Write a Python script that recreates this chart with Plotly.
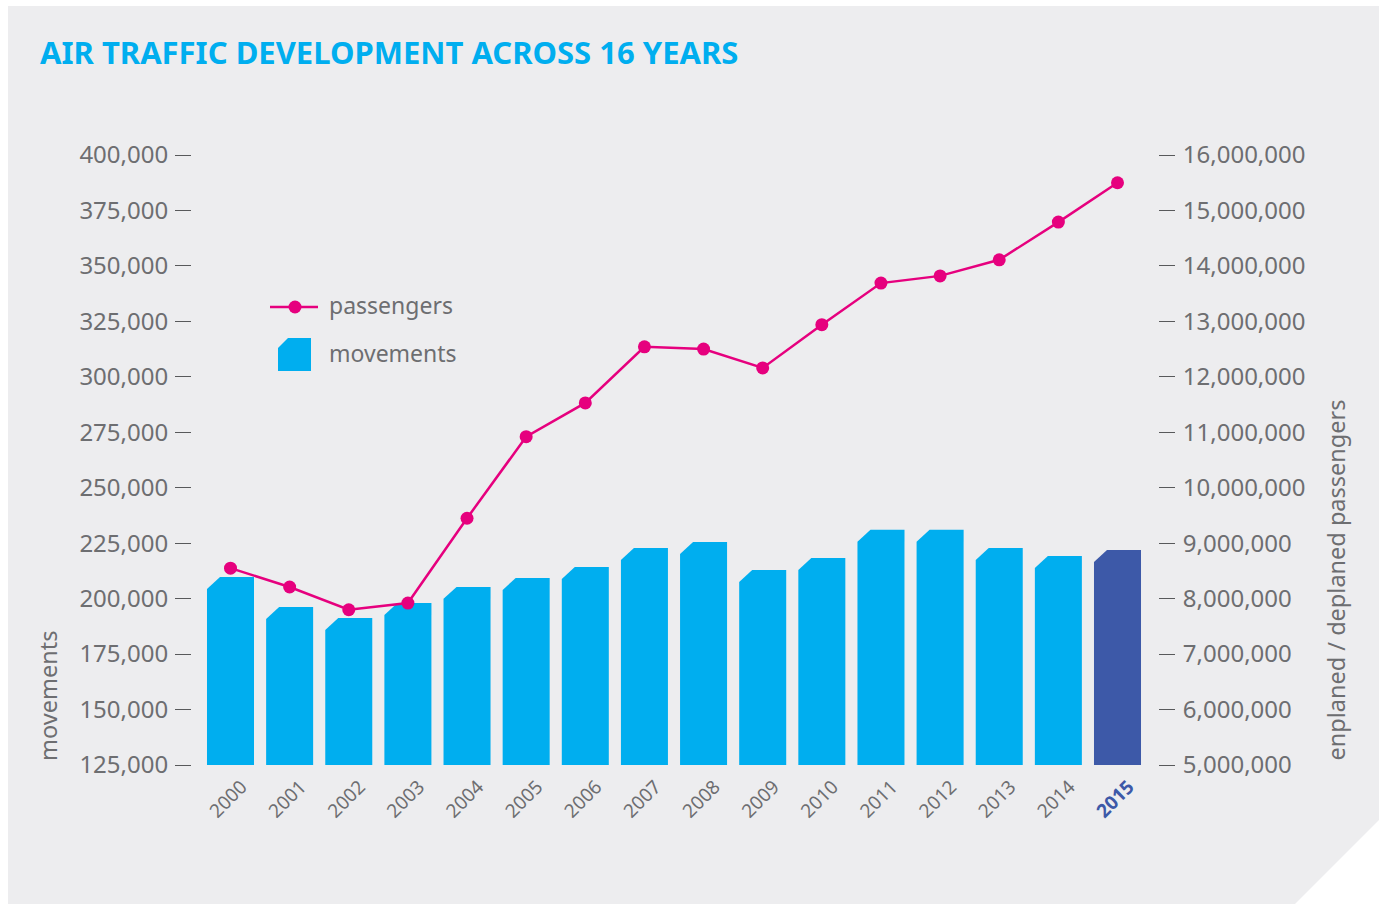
import plotly.graph_objects as go

# data
YEARS = ["2000", "2001", "2002", "2003", "2004", "2005", "2006", "2007",
         "2008", "2009", "2010", "2011", "2012", "2013", "2014", "2015"]
MOVEMENTS = [209800, 196200, 191300, 198000, 205300, 209300, 214300, 222800,
             225500, 212900, 218300, 231000, 231000, 222800, 219200, 221900]
PASSENGERS = [8550000, 8210000, 7800000, 7920000, 9450000, 10920000, 11530000, 12540000,
              12500000, 12160000, 12940000, 13690000, 13820000, 14110000, 14790000, 15500000]
LEFT_TICKS = [125000, 150000, 175000, 200000, 225000, 250000, 275000,
              300000, 325000, 350000, 375000, 400000]
RIGHT_TICKS = [5000000, 6000000, 7000000, 8000000, 9000000, 10000000,
               11000000, 12000000, 13000000, 14000000, 15000000, 16000000]

CYAN = "#00aeef"
NAVY = "#3d59a8"
PINK = "#e6007e"
GREY_TEXT = "#6d6e71"
TICK_GREY = "#58595b"
PANEL = "#ededef"
FONT = "Noto Sans"

W, H = 1379, 904
# plot area in pixels
L, R, T, B = 192, 1158, 155, 765


def px(x):
    return (x - L) / (R - L)


def py(y):
    return (B - y) / (B - T)


BAR_W = 0.795
CH_X = 0.22      # chamfer on the top-left corner, in category units
CH_Y = 5400      # chamfer height, in movements units
BASE = LEFT_TICKS[0]

fig = go.Figure()

for i, (yr, v) in enumerate(zip(YEARS, MOVEMENTS)):
    x0, x1 = i - BAR_W / 2, i + BAR_W / 2
    color = NAVY if yr == "2015" else CYAN
    fig.add_trace(go.Scatter(
        x=[x0, x0, x0 + CH_X, x1, x1, x0],
        y=[BASE, v - CH_Y, v, v, BASE, BASE],
        mode="lines", fill="toself", fillcolor=color,
        line=dict(width=0, color=color),
        name="movements", showlegend=False,
        hovertemplate=f"{yr}: {v:,} movements<extra></extra>",
    ))

fig.add_trace(go.Scatter(
    x=list(range(len(YEARS))), y=PASSENGERS, yaxis="y2",
    mode="lines+markers", name="passengers", showlegend=False,
    line=dict(color=PINK, width=2.5),
    marker=dict(color=PINK, size=13),
    customdata=YEARS,
    hovertemplate="%{customdata}: %{y:,} passengers<extra></extra>",
))

ticktext = [f"<b><span style='color:{NAVY}'>{y}</span></b>" if y == "2015" else y for y in YEARS]
k = (1117.5 - 230.5) / 15
fig.update_layout(
    width=W, height=H,
    margin=dict(l=L, r=W - R, t=T, b=H - B, pad=0),
    paper_bgcolor="white",
    plot_bgcolor="rgba(0,0,0,0)",
    font=dict(family=FONT, color=GREY_TEXT),
    showlegend=False,
    xaxis=dict(
        range=[(L - 230.5) / k, (R - 230.5) / k],
        tickvals=list(range(len(YEARS))), ticktext=ticktext,
        tickangle=-45, ticks="", showgrid=False, zeroline=False, showline=False,
        tickfont=dict(size=19, color=GREY_TEXT, family=FONT),
        ticklabelstandoff=6, ticklabelshift=11,
    ),
    yaxis=dict(
        range=[125000, 400000], tickvals=LEFT_TICKS, tickformat=",",
        ticks="outside", ticklen=16, tickwidth=1.3, tickcolor=TICK_GREY,
        showgrid=False, zeroline=False, showline=False,
        tickfont=dict(size=24, color=GREY_TEXT, family=FONT),
        ticklabelstandoff=2,
    ),
    yaxis2=dict(
        range=[5000000, 16000000], tickvals=RIGHT_TICKS, tickformat=",",
        overlaying="y", side="right",
        ticks="outside", ticklen=16, tickwidth=1.3, tickcolor=TICK_GREY,
        showgrid=False, zeroline=False, showline=False,
        tickfont=dict(size=24, color=GREY_TEXT, family=FONT),
        ticklabelstandoff=3,
    ),
)

# grey panel with the clipped bottom-right corner
fig.add_shape(
    type="path", xref="paper", yref="paper", layer="below",
    path=(f"M{px(8)},{py(6)} L{px(1379)},{py(6)} L{px(1379)},{py(820)} "
          f"L{px(1295)},{py(904)} L{px(8)},{py(904)} Z"),
    fillcolor=PANEL, line=dict(width=0),
)

# legend drawn by hand
fig.add_shape(type="line", xref="paper", yref="paper",
              x0=px(270), x1=px(318), y0=py(307), y1=py(307),
              line=dict(color=PINK, width=2.5))
fig.add_shape(type="circle", xref="paper", yref="paper",
              x0=px(288.5), x1=px(301.5), y0=py(313.5), y1=py(300.5),
              fillcolor=PINK, line=dict(width=0))
fig.add_shape(
    type="path", xref="paper", yref="paper",
    path=(f"M{px(278)},{py(371)} L{px(278)},{py(348)} L{px(288)},{py(338)} "
          f"L{px(311)},{py(338)} L{px(311)},{py(371)} Z"),
    fillcolor=CYAN, line=dict(width=0),
)
for label, yy in [("passengers", 305), ("movements", 353)]:
    fig.add_annotation(text=label, xref="paper", yref="paper",
                       x=px(327), y=py(yy), xanchor="left", yanchor="middle",
                       showarrow=False, font=dict(size=23, color=GREY_TEXT, family=FONT))

fig.add_annotation(text="AIR TRAFFIC DEVELOPMENT ACROSS 16 YEARS",
                   xref="paper", yref="paper", x=px(38), y=py(52),
                   xanchor="left", yanchor="middle", showarrow=False,
                   font=dict(size=31, color=CYAN, family=FONT, weight=700))

# axis titles sit at the bottom of the axes
fig.add_annotation(text="movements", xref="paper", yref="paper",
                   x=px(48), y=py(763), xanchor="center", yanchor="bottom",
                   textangle=-90, showarrow=False,
                   font=dict(size=23.5, color=GREY_TEXT, family=FONT))
fig.add_annotation(text="enplaned / deplaned passengers", xref="paper", yref="paper",
                   x=px(1335), y=py(763), xanchor="center", yanchor="bottom",
                   textangle=-90, showarrow=False,
                   font=dict(size=23.5, color=GREY_TEXT, family=FONT))

# drop the browser's default body margin so the figure sits at the page origin
fig.write_html("out.html", config={"displayModeBar": False},
               post_script="document.body.style.margin = '0';")
